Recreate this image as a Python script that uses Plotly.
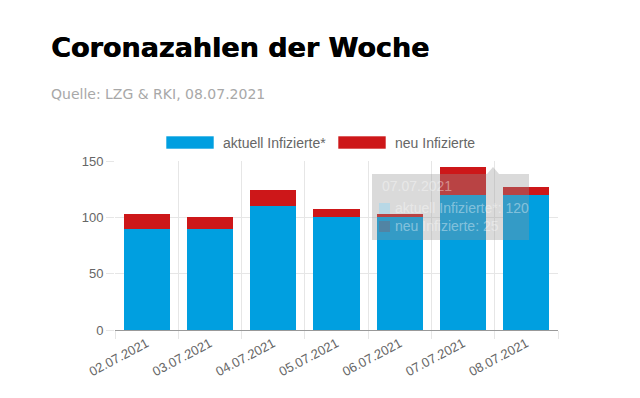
import plotly.graph_objects as go

dates = ["02.07.2021", "03.07.2021", "04.07.2021", "05.07.2021", "06.07.2021", "07.07.2021", "08.07.2021"]
aktuell = [90, 90, 110, 100, 100, 120, 120]
neu = [13, 10, 14, 7, 3, 25, 7]
y_ticks = [0, 50, 100, 150]

BLUE = "#009fe0"
RED = "#cd1719"
FONT = "Liberation Sans, Arial, sans-serif"

# page body has an 8px default margin; plot area target: x 115..558, y 161..330
OFF = 8
L, R, T, B = 115 - OFF, 640 - 558 + OFF, 161 - OFF, 398 - 330 + OFF

fig = go.Figure()
fig.add_trace(go.Bar(x=dates, y=aktuell, name="aktuell Infizierte*", marker=dict(color=BLUE, line=dict(width=0)), width=0.73))
fig.add_trace(go.Bar(x=dates, y=neu, name="neu Infizierte", marker=dict(color=RED, line=dict(width=0)), width=0.73))

fig.update_layout(
    width=640, height=398,
    barmode="stack",
    showlegend=False,
    paper_bgcolor="white", plot_bgcolor="white",
    margin=dict(l=L, r=R, t=T, b=B),
    font=dict(family=FONT, size=12, color="#666666"),
)
fig.update_xaxes(
    type="category", tickson="boundaries", showgrid=True, gridcolor="#e6e6e6",
    ticks="outside", ticklen=8, tickcolor="#e6e6e6", tickangle=-28,
    showline=True, linecolor="#999999", linewidth=1,
    tickfont=dict(size=13, color="#666666"),
)
fig.update_yaxes(
    range=[0, 150], tickvals=y_ticks, showgrid=True, gridcolor="#e6e6e6",
    ticks="outside", ticklen=8, tickcolor="#e6e6e6", zeroline=False,
    tickfont=dict(size=13, color="#666666"),
)

def px_x(p):
    return (p - 115) / 443
def px_y(p):
    return (330 - p) / 169

# Title and subtitle
fig.add_annotation(text="<b>Coronazahlen der Woche</b>", xref="paper", yref="paper",
                   x=px_x(49), y=px_y(47), xanchor="left", yanchor="middle",
                   showarrow=False,
                   font=dict(family="DejaVu Sans, sans-serif", size=27, color="#000000",
                             shadow="0.6px 0 0 #000000"))
fig.add_annotation(text="Quelle: LZG & RKI, 08.07.2021", xref="paper", yref="paper",
                   x=px_x(49), y=px_y(94), xanchor="left", yanchor="middle",
                   showarrow=False, font=dict(family="DejaVu Sans, sans-serif", size=14, color="#a8a8a8"))

# Custom legend (Chart.js style wide boxes)
legend_items = [("aktuell Infizierte*", BLUE, 166), ("neu Infizierte", RED, 338)]
for label, col, x0 in legend_items:
    fig.add_shape(type="rect", xref="paper", yref="paper",
                  x0=px_x(x0), x1=px_x(x0 + 48), y0=px_y(149), y1=px_y(136),
                  fillcolor=col, line=dict(width=1, color="rgba(255,255,255,0.6)"))
    fig.add_annotation(text=label, xref="paper", yref="paper", x=px_x(x0 + 55), y=px_y(142.5),
                       xanchor="left", yanchor="middle", showarrow=False,
                       font=dict(size=14, color="#666666"))

# Tooltip overlay (hover state in the reference)
fig.add_shape(type="rect", xref="paper", yref="paper",
              x0=px_x(372), x1=px_x(529), y0=px_y(240), y1=px_y(174),
              fillcolor="rgba(150,150,150,0.35)", line=dict(width=0), layer="above")
fig.add_shape(type="path", xref="paper", yref="paper",
              path=f"M {px_x(487)} {px_y(174)} L {px_x(493)} {px_y(167)} L {px_x(499)} {px_y(174)} Z",
              fillcolor="rgba(150,150,150,0.35)", line=dict(width=0), layer="above")
tt_font = dict(size=14, color="rgba(255,255,255,0.4)")
fig.add_annotation(text="07.07.2021", xref="paper", yref="paper", x=px_x(380), y=px_y(186),
                   xanchor="left", yanchor="middle", showarrow=False, font=tt_font)
fig.add_annotation(text="aktuell Infizierte*: 120", xref="paper", yref="paper", x=px_x(393), y=px_y(208),
                   xanchor="left", yanchor="middle", showarrow=False, font=tt_font)
fig.add_annotation(text="neu Infizierte: 25", xref="paper", yref="paper", x=px_x(393), y=px_y(226),
                   xanchor="left", yanchor="middle", showarrow=False, font=tt_font)
fig.add_shape(type="rect", xref="paper", yref="paper",
              x0=px_x(379), x1=px_x(390), y0=px_y(214), y1=px_y(203),
              fillcolor="rgba(170,215,235,0.7)", line=dict(width=0), layer="above")
fig.add_shape(type="rect", xref="paper", yref="paper",
              x0=px_x(379), x1=px_x(390), y0=px_y(232), y1=px_y(221),
              fillcolor="rgba(110,110,130,0.5)", line=dict(width=0), layer="above")

fig.write_html("out.html")
